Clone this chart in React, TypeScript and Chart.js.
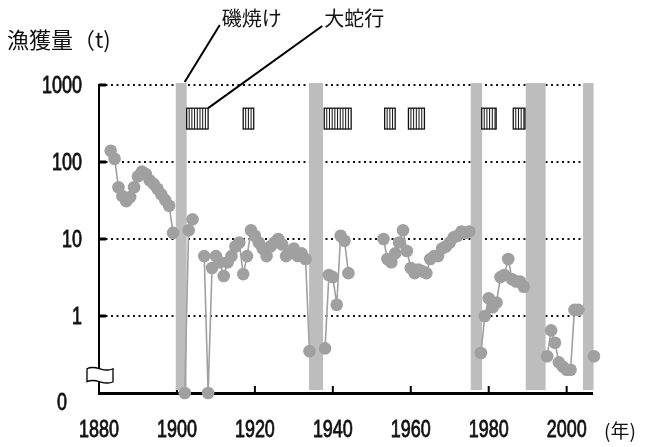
import React, { useEffect, useRef } from 'react';
import { Chart, registerables } from 'chart.js';

Chart.register(...registerables);

// ---- data (catch in tonnes; 0 = zero catch, null = no record) ----
const years = [
  1883, 1884, 1885, 1886, 1887, 1888, 1889, 1890, 1891, 1892,
  1893, 1894, 1895, 1896, 1897, 1898, 1899, 1900,
  1902, 1903, 1904, 1905,
  1907, 1908, 1909, 1910, 1911, 1912, 1913, 1914, 1915, 1916,
  1917, 1918, 1919, 1920, 1921, 1922, 1923, 1924, 1925, 1926,
  1927, 1928, 1929, 1930, 1931, 1932, 1933, 1934, 1935,
  1938, 1939, 1940, 1941, 1942, 1943, 1944, 1945,
  1953, 1954, 1955, 1956, 1957, 1958, 1959, 1960, 1961, 1962,
  1963, 1964, 1965, 1966, 1967, 1968, 1969, 1970, 1971, 1972,
  1973, 1974, 1975, 1976,
  1978, 1979, 1980, 1981, 1982, 1983, 1984, 1985, 1986, 1987,
  1988, 1989, 1990,
  1995, 1996, 1997, 1998, 1999, 2000, 2001, 2002, 2003, 2004,
  2007,
];
const catchTons: (number | null)[] = [
  140, 110, 47, 36, 31, 35, 47, 65, 75, 70,
  58, 52, 45, 38, 32, 27, 12, null,
  0, 13, 18, null,
  6, 0, 4.2, 6, 5, 3.3, 5, 6, 8, 9,
  3.5, 6, 13, 11, 9, 7.5, 6, 8, 9, 10,
  8.5, 6, 6.5, 7.5, 6, 6.5, 5.5, 0.35, null,
  0.38, 3.4, 3.2, 1.4, 11, 9.5, 3.6, null,
  10, 5.5, 5, 6.5, 9, 13, 7, 4.2, 3.6, 4,
  3.8, 3.6, 5.5, 6, 6, 7.5, 8, 9, 10.5, 11,
  12.5, 12, 12.5, null,
  0.33, 1.0, 1.7, 1.3, 1.5, 3.2, 3.4, 5.5, 3.0, 2.8,
  2.8, 2.4, null,
  0.3, 0.65, 0.45, 0.25, 0.22, 0.2, 0.2, 1.2, 1.2, null,
  0.3,
];

const xTickYears = [1880, 1900, 1920, 1940, 1960, 1980, 2000];
const yTickValues = [0.1, 1, 10, 100, 1000];
const yTickLabels = ['0', '1', '10', '100', '1000'];
const ZERO_AT = 0.1; // where a zero catch sits on the broken log axis

// 磯焼け (barren-ground) periods [start, end]
const isoyakePeriods = [
  [1899.7, 1902.5],
  [1933.9, 1937.5],
  [1975.4, 1978.3],
  [1989.5, 1994.6],
  [2004.2, 2006.9],
];
// 大蛇行 (Kuroshio large meander) periods [start, end]
const meanderPeriods = [
  [1902.5, 1908.0],
  [1917.0, 1919.7],
  [1937.8, 1944.7],
  [1953.3, 1956.0],
  [1959.4, 1963.5],
  [1978.2, 1981.9],
  [1986.3, 1989.3],
];

const TICK_FONT = "'Liberation Sans', Arial, sans-serif";
const TICK_SIZE = 23;
const NARROW = 0.78; // horizontal condensing of tick digits
const JP_FONT = "'Noto Sans CJK JP', 'Noto Sans CJK SC', sans-serif";
const POINT_COLOR = '#a0a0a0';
const BAND_COLOR = '#bdbdbd';

function narrowText(ctx: any, text: string, px: number, py: number, align: string) {
  ctx.save();
  ctx.translate(px, py);
  ctx.scale(NARROW, 1);
  ctx.textAlign = align;
  ctx.textBaseline = 'middle';
  ctx.fillText(text, 0, 0);
  ctx.lineWidth = 0.8;
  ctx.strokeStyle = ctx.fillStyle;
  ctx.strokeText(text, 0, 0);
  ctx.restore();
}

const overlayPlugin = {
  id: 'overlay',
  beforeDatasetsDraw(chart: any) {
    const { ctx, chartArea: a, scales } = chart;
    const x = scales.x, y = scales.y;
    ctx.save();
    // inward tick marks
    ctx.strokeStyle = '#000';
    ctx.lineWidth = 2;
    xTickYears.slice(1).forEach((yr) => {
      const px = x.getPixelForValue(yr);
      ctx.beginPath();
      ctx.moveTo(px, a.bottom);
      ctx.lineTo(px, a.bottom - 7);
      ctx.stroke();
    });
    ctx.lineWidth = 3;
    yTickValues.slice(1).forEach((v) => {
      const py = y.getPixelForValue(v);
      ctx.beginPath();
      ctx.moveTo(a.left, py);
      ctx.lineTo(a.left + 7, py);
      ctx.stroke();
    });
    // isoyake bands (under the data)
    ctx.fillStyle = BAND_COLOR;
    isoyakePeriods.forEach(([s, e]) => {
      const x0 = x.getPixelForValue(s), x1 = x.getPixelForValue(e);
      ctx.fillRect(x0, a.top - 2, x1 - x0, a.bottom - 3 - (a.top - 2));
    });
    ctx.restore();
  },
  afterDatasetsDraw(chart: any) {
    const { ctx, chartArea: a, scales } = chart;
    const x = scales.x, y = scales.y;
    ctx.save();
    // meander hatched boxes
    const yt = y.getPixelForValue(500), yb = y.getPixelForValue(268);
    meanderPeriods.forEach(([s, e]) => {
      const x0 = x.getPixelForValue(s), x1 = x.getPixelForValue(e);
      ctx.fillStyle = '#fff';
      ctx.fillRect(x0, yt, x1 - x0, yb - yt);
      ctx.strokeStyle = '#111';
      ctx.lineWidth = 1;
      for (let px = x0 + 2.5; px < x1 - 1; px += 2.7) {
        ctx.beginPath();
        ctx.moveTo(px, yt);
        ctx.lineTo(px, yb);
        ctx.stroke();
      }
      ctx.lineWidth = 1.3;
      ctx.strokeRect(x0, yt, x1 - x0, yb - yt);
    });
    // axis break symbol on the y axis
    const by = y.getPixelForValue(0.17);
    const bx0 = a.left - 12, bx1 = a.left + 14, h = 13, top = by - h / 2;
    ctx.beginPath();
    ctx.moveTo(bx0, top);
    ctx.bezierCurveTo(bx0 + 9, top - 5, bx1 - 9, top + 5, bx1, top);
    ctx.lineTo(bx1, top + h);
    ctx.bezierCurveTo(bx1 - 9, top + h + 5, bx0 + 9, top + h - 5, bx0, top + h);
    ctx.closePath();
    ctx.fillStyle = '#fff';
    ctx.fill();
    ctx.strokeStyle = '#000';
    ctx.lineWidth = 1.3;
    ctx.stroke();
    // tick labels (condensed digits) placed through the scales
    ctx.fillStyle = '#111';
    ctx.font = `${TICK_SIZE}px ${TICK_FONT}`;
    xTickYears.forEach((yr) => {
      narrowText(ctx, String(yr), x.getPixelForValue(yr), a.bottom + 38, 'center');
    });
    yTickValues.forEach((v, i) => {
      if (i === 0) {
        narrowText(ctx, yTickLabels[i], a.left - 37, a.bottom + 11, 'center');
      } else {
        narrowText(ctx, yTickLabels[i], a.left - 17, y.getPixelForValue(v) + 2, 'right');
      }
    });
    // annotations
    const l1x = x.getPixelForValue(1911.5), l2x = x.getPixelForValue(1937.8);
    ctx.fillStyle = '#111';
    ctx.font = `20px ${JP_FONT}`;
    ctx.textAlign = 'left';
    ctx.textBaseline = 'middle';
    ctx.fillText('磯焼け', l1x, 18);
    ctx.fillText('大蛇行', l2x, 18);
    ctx.strokeStyle = '#000';
    ctx.lineWidth = 2;
    ctx.beginPath();
    ctx.moveTo(l1x - 2, 25);
    ctx.lineTo(x.getPixelForValue(isoyakePeriods[0][1]) - 2, a.top - 3);
    ctx.stroke();
    ctx.beginPath();
    ctx.moveTo(l2x - 2, 26);
    ctx.lineTo(x.getPixelForValue(meanderPeriods[0][1]), yt);
    ctx.stroke();
    // title and unit
    ctx.font = `22px ${JP_FONT}`;
    ctx.fillText('漁獲量（t)', 7, 40);
    ctx.font = `19px ${JP_FONT}`;
    ctx.fillText('(年)', a.right + 12, a.bottom + 38);
    ctx.restore();
  },
};

export default function App() {
  const canvasRef = useRef<HTMLCanvasElement | null>(null);

  useEffect(() => {
    if (!canvasRef.current) return;
    const points = years.map((yr, i) => {
      const v = catchTons[i];
      return { x: yr, y: v === null ? null : v === 0 ? ZERO_AT : v };
    });
    const chart = new Chart(canvasRef.current, {
      type: 'line',
      data: {
        datasets: [
          {
            label: '漁獲量',
            data: points as any,
            borderColor: POINT_COLOR,
            backgroundColor: POINT_COLOR,
            pointBackgroundColor: POINT_COLOR,
            pointBorderColor: POINT_COLOR,
            borderWidth: 1.6,
            pointRadius: 6.3,
            pointBorderWidth: 0,
            spanGaps: false,
            clip: false as any,
          },
        ],
      },
      options: {
        animation: false,
        responsive: true,
        maintainAspectRatio: false,
        layout: { padding: { left: 0, top: 85, right: 53, bottom: 0 } },
        plugins: { legend: { display: false }, tooltip: { enabled: false } },
        scales: {
          x: {
            type: 'linear',
            min: 1880,
            max: 2006.5,
            afterBuildTicks: (s: any) => {
              s.ticks = xTickYears.map((v) => ({ value: v }));
            },
            afterFit: (s: any) => {
              s.height = 54;
            },
            grid: { display: false, drawTicks: false },
            border: { display: true, color: '#000', width: 3 },
            ticks: { display: false, autoSkip: false },
          },
          y: {
            type: 'logarithmic',
            min: 0.1,
            max: 1000,
            afterBuildTicks: (s: any) => {
              s.ticks = yTickValues.map((v) => ({ value: v }));
            },
            afterFit: (s: any) => {
              s.width = 99;
            },
            grid: {
              display: true,
              drawTicks: false,
              color: (c: any) => (c.tick && c.tick.value === ZERO_AT ? 'rgba(0,0,0,0)' : '#111'),
              lineWidth: 2,
            },
            border: { display: true, color: '#000', width: 2, dash: [2, 3.5] },
            ticks: { display: false, autoSkip: false },
          },
        },
      },
      plugins: [overlayPlugin],
    });
    return () => chart.destroy();
  }, []);

  return (
    <div style={{ position: 'absolute', left: 0, top: 0, width: 645, height: 447, background: '#fff' }}>
      <canvas ref={canvasRef} />
    </div>
  );
}
